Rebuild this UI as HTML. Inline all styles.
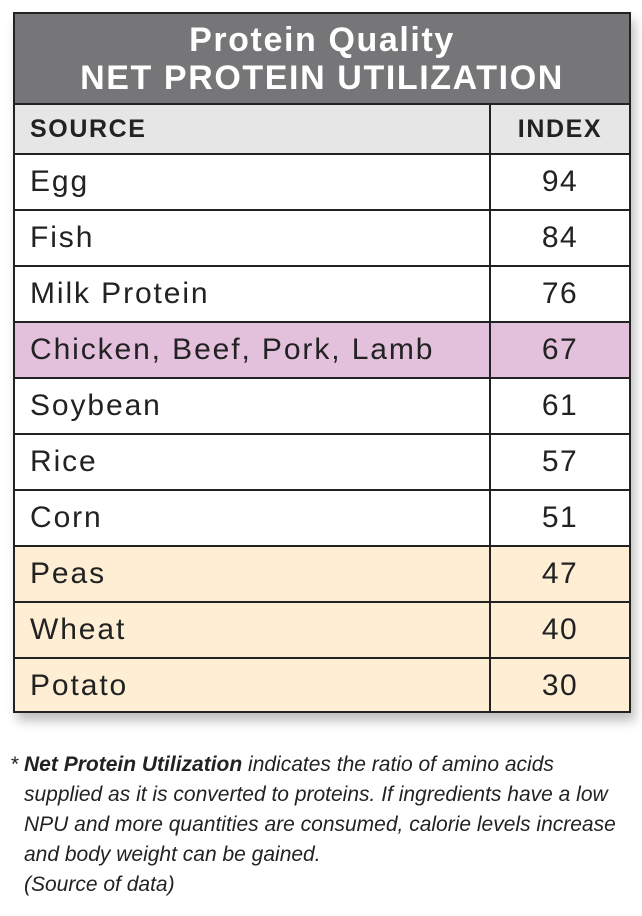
<!DOCTYPE html>
<html><head><style>
body{margin:0;width:642px;height:916px;background:#fff;position:relative;overflow:hidden;font-family:"Liberation Sans",sans-serif;}
.t{position:absolute;left:13px;top:12px;width:618px;height:701px;border:2px solid #222;box-sizing:border-box;box-shadow:4px 8px 10px rgba(0,0,0,0.25);}
.title{position:absolute;left:0;top:0;width:614px;height:89px;background:#767678;color:#fff;text-align:center;font-weight:bold;font-size:34px;letter-spacing:1.6px;line-height:38px;padding-top:7px;box-sizing:border-box;}
.row{position:absolute;left:0;width:614px;height:56px;border-top:2px solid #222;box-sizing:border-box;}
.row .s{position:absolute;left:15px;top:0;line-height:54px;font-size:30px;letter-spacing:1.9px;color:#222;}
.row .i{position:absolute;left:476px;width:138px;top:0;line-height:54px;font-size:30px;letter-spacing:1.5px;text-align:center;color:#222;}
.vl{position:absolute;left:474px;top:89px;width:2px;height:608px;background:#222;}
.hd{background:#e6e6e6;height:50px;}
.hd .s,.hd .i{font-weight:bold;font-size:25px;letter-spacing:1.6px;line-height:48px;}
.note{position:absolute;left:10px;top:750px;font-family:"Liberation Sans Narrow","Liberation Sans",sans-serif;font-style:italic;font-size:21px;line-height:30px;color:#222;}
.note div{padding-left:14px;}
</style></head><body>
<div class="t">
<div class="title">Protein Quality<br>NET PROTEIN UTILIZATION</div>
<div class="row hd" style="top:89px"><span class="s">SOURCE</span><span class="i">INDEX</span></div>
<div class="row" style="top:139px"><span class="s">Egg</span><span class="i">94</span></div>
<div class="row" style="top:195px"><span class="s">Fish</span><span class="i">84</span></div>
<div class="row" style="top:251px"><span class="s">Milk Protein</span><span class="i">76</span></div>
<div class="row" style="top:307px;background:#e3c1dd"><span class="s">Chicken, Beef, Pork, Lamb</span><span class="i">67</span></div>
<div class="row" style="top:363px"><span class="s">Soybean</span><span class="i">61</span></div>
<div class="row" style="top:419px"><span class="s">Rice</span><span class="i">57</span></div>
<div class="row" style="top:475px"><span class="s">Corn</span><span class="i">51</span></div>
<div class="row" style="top:531px;background:#fdeed4"><span class="s">Peas</span><span class="i">47</span></div>
<div class="row" style="top:587px;background:#fdeed4"><span class="s">Wheat</span><span class="i">40</span></div>
<div class="row" style="top:643px;height:54px;background:#fdeed4"><span class="s">Potato</span><span class="i">30</span></div>
<div class="vl"></div>
</div>
<div class="note">* <b>Net Protein Utilization</b> indicates the ratio of amino acids
<div>supplied as it is converted to proteins. If ingredients have a low</div>
<div>NPU and more quantities are consumed, calorie levels increase</div>
<div>and body weight can be gained.</div>
<div>(Source of data)</div>
</div>
</body></html>
